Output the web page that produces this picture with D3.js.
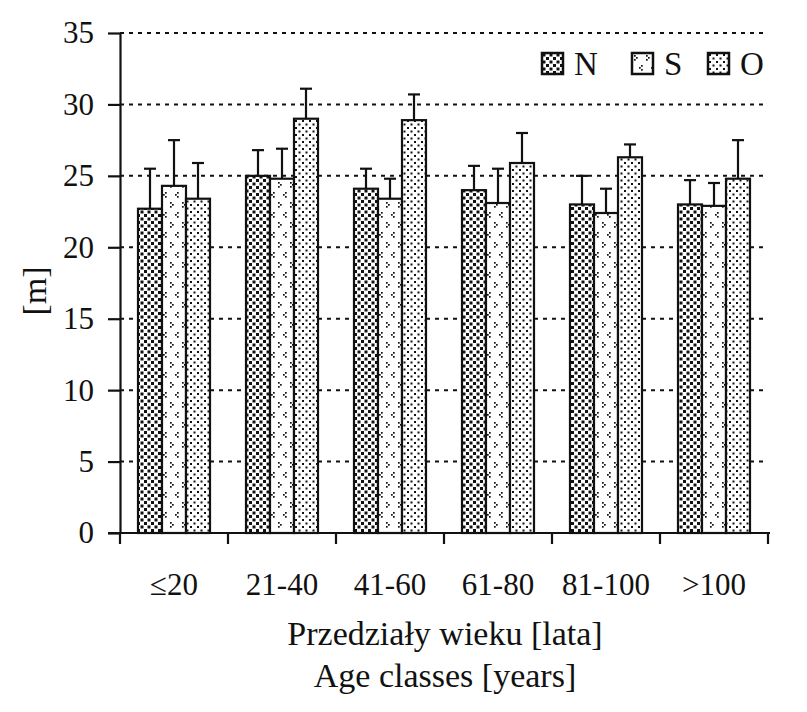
<!DOCTYPE html>
<html>
<head>
<meta charset="utf-8">
<script src="https://cdn.jsdelivr.net/npm/d3@7"></script>
<style>
  html, body { margin: 0; padding: 0; background: #fff; }
  svg { display: block; }
  svg text { font-family: "Liberation Serif", "Times New Roman", "DejaVu Serif", serif !important; fill: #111; }
</style>
</head>
<body>
<svg id="chart" width="807" height="712"></svg>
<script>
// ---- data ----
const categories = ["≤20", "21-40", "41-60", "61-80", "81-100", ">100"];
const seriesNames = ["N", "S", "O"];
const valuesN = [22.7, 25.0, 24.1, 24.0, 23.0, 23.0];
const valuesS = [24.3, 24.8, 23.4, 23.1, 22.4, 22.9];
const valuesO = [23.4, 29.0, 28.9, 25.9, 26.3, 24.8];
const errTopN = [25.5, 26.8, 25.5, 25.7, 25.0, 24.7];
const errTopS = [27.5, 26.9, 24.8, 25.5, 24.1, 24.5];
const errTopO = [25.9, 31.1, 30.7, 28.0, 27.2, 27.5];
const yTicks = [0, 5, 10, 15, 20, 25, 30, 35];
const gridValues = [5, 10, 15, 20, 25, 30, 35];
const yLabel = "[m]";
const xLabel1 = "Przedziały wieku [lata]";
const xLabel2 = "Age classes [years]";

const seriesValues = { N: valuesN, S: valuesS, O: valuesO };
const seriesErr = { N: errTopN, S: errTopS, O: errTopO };

const svg = d3.select("#chart");

// ---- patterns ----
const defs = svg.append("defs");
const pN = defs.append("pattern").attr("id", "patN").attr("patternUnits", "userSpaceOnUse")
  .attr("width", 7).attr("height", 7);
pN.append("rect").attr("width", 7).attr("height", 7).attr("fill", "#fff");
pN.append("rect").attr("x", 0.5).attr("y", 0.5).attr("width", 3).attr("height", 3).attr("fill", "#111");
pN.append("rect").attr("x", 4).attr("y", 4).attr("width", 3).attr("height", 3).attr("fill", "#111");
const pS = defs.append("pattern").attr("id", "patS").attr("patternUnits", "userSpaceOnUse")
  .attr("width", 12).attr("height", 20);
pS.append("rect").attr("width", 12).attr("height", 20).attr("fill", "#fff");
[[2,2],[4,4],[2,6]].forEach(([px,py]) => pS.append("rect").attr("x", px).attr("y", py).attr("width", 1.7).attr("height", 1.7).attr("fill", "#111"));
[[9,12],[7,14],[9,16]].forEach(([px,py]) => pS.append("rect").attr("x", px).attr("y", py).attr("width", 1.7).attr("height", 1.7).attr("fill", "#111"));
const pO = defs.append("pattern").attr("id", "patO").attr("patternUnits", "userSpaceOnUse")
  .attr("width", 7).attr("height", 7);
pO.append("rect").attr("width", 7).attr("height", 7).attr("fill", "#fff");
pO.append("rect").attr("x", 1).attr("y", 1).attr("width", 2).attr("height", 2).attr("fill", "#111");
pO.append("rect").attr("x", 4.5).attr("y", 4.5).attr("width", 2).attr("height", 2).attr("fill", "#111");
const patternFor = { N: "url(#patN)", S: "url(#patS)", O: "url(#patO)" };

// ---- scales ----
const plotLeft = 120, plotRight = 768, plotTop = 33, plotBottom = 533;
const x = d3.scaleBand().domain(categories).range([plotLeft, plotRight]).paddingInner(0).paddingOuter(0);
const x1 = d3.scaleBand().domain(seriesNames).range([0, x.bandwidth()]).paddingInner(0).paddingOuter(0.75);
const y = d3.scaleLinear().domain([0, 35]).range([plotBottom, plotTop]);

// ---- grid ----
svg.append("g").selectAll("line").data(gridValues).join("line")
  .attr("x1", plotLeft).attr("x2", plotRight)
  .attr("y1", d => y(d)).attr("y2", d => y(d))
  .attr("stroke", "#111").attr("stroke-width", 2).attr("stroke-dasharray", "4,5");

// ---- bars ----
const rows = [];
categories.forEach((c, i) => seriesNames.forEach(s => rows.push({ c, s, v: seriesValues[s][i], e: seriesErr[s][i] })));

const gBars = svg.append("g");
gBars.selectAll("line.err").data(rows).join("line").attr("class", "err")
  .attr("x1", d => x(d.c) + x1(d.s) + x1.bandwidth() / 2)
  .attr("x2", d => x(d.c) + x1(d.s) + x1.bandwidth() / 2)
  .attr("y1", d => y(d.v)).attr("y2", d => y(d.e))
  .attr("stroke", "#111").attr("stroke-width", 2.2);
gBars.selectAll("line.cap").data(rows).join("line").attr("class", "cap")
  .attr("x1", d => x(d.c) + x1(d.s) + x1.bandwidth() / 2 - 6)
  .attr("x2", d => x(d.c) + x1(d.s) + x1.bandwidth() / 2 + 6)
  .attr("y1", d => y(d.e)).attr("y2", d => y(d.e))
  .attr("stroke", "#111").attr("stroke-width", 2.2);
gBars.selectAll("rect.bar").data(rows).join("rect").attr("class", "bar")
  .attr("x", d => x(d.c) + x1(d.s))
  .attr("width", x1.bandwidth())
  .attr("y", d => y(d.v))
  .attr("height", d => y(0) - y(d.v))
  .attr("fill", d => patternFor[d.s])
  .attr("stroke", "#111").attr("stroke-width", 2.2);

// ---- y axis ----
const yAxis = d3.axisLeft(y).tickValues(yTicks).tickSize(12).tickSizeOuter(0).tickPadding(14);
const gy = svg.append("g").attr("transform", `translate(${plotLeft},0)`).call(yAxis)
  .attr("font-family", null);
gy.select(".domain").attr("stroke", "#111").attr("stroke-width", 2.2);
gy.selectAll(".tick line").attr("stroke", "#111").attr("stroke-width", 2.2);
gy.selectAll(".tick text").attr("font-size", 31).attr("fill", "#111");

// ---- x axis ----
const xAxis = d3.axisBottom(x).tickSize(0).tickSizeOuter(0).tickPadding(40);
const gx = svg.append("g").attr("transform", `translate(0,${plotBottom})`).call(xAxis)
  .attr("font-family", null);
gx.select(".domain").remove();
gx.selectAll(".tick text").attr("font-size", 31).attr("fill", "#111");
gx.append("line").attr("x1", plotLeft - 12).attr("x2", plotRight + 2).attr("y1", 0).attr("y2", 0)
  .attr("stroke", "#111").attr("stroke-width", 2.2);
const boundaries = categories.map(c => x(c)).concat([x(categories[categories.length - 1]) + x.bandwidth()]);
gx.selectAll("line.bt").data(boundaries).join("line").attr("class", "bt")
  .attr("x1", d => d).attr("x2", d => d).attr("y1", 0).attr("y2", 11)
  .attr("stroke", "#111").attr("stroke-width", 2.2);

// ---- axis titles ----
svg.append("text").attr("transform", `translate(46,${(plotTop + plotBottom) / 2 + 8}) rotate(-90)`)
  .attr("text-anchor", "middle").attr("font-size", 34).text(yLabel);
svg.append("text").attr("x", 445).attr("y", 645)
  .attr("text-anchor", "middle").attr("font-size", 34).text(xLabel1);
svg.append("text").attr("x", 445).attr("y", 687)
  .attr("text-anchor", "middle").attr("font-size", 34).text(xLabel2);

// ---- legend ----
const legendX = [542, 632, 708];
const lg = svg.append("g").selectAll("g").data(seriesNames).join("g")
  .attr("transform", (d, i) => `translate(${legendX[i]},53)`);
lg.append("rect").attr("width", 21).attr("height", 21).attr("fill", d => patternFor[d])
  .attr("stroke", "#111").attr("stroke-width", 2.5);
lg.append("text").attr("x", 32).attr("y", 22).attr("font-size", 33).text(d => d);
</script>
</body>
</html>
